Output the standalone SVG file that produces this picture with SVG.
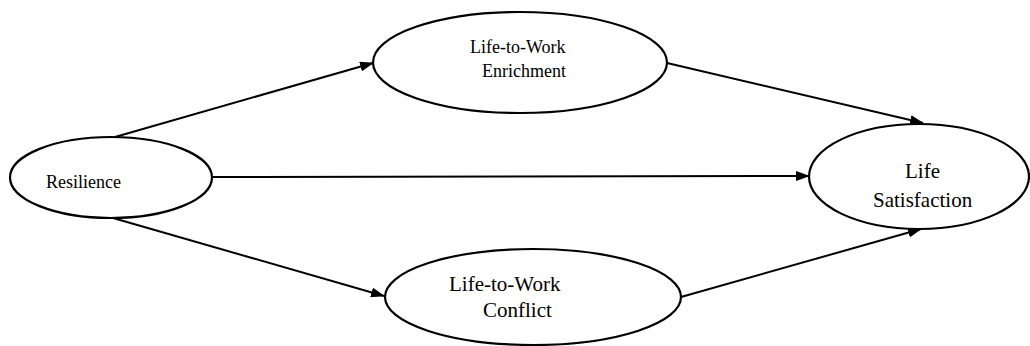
<svg xmlns="http://www.w3.org/2000/svg" width="1030" height="346" viewBox="0 0 1030 346">
<style>
.node ellipse{fill:#fff;stroke:#000;stroke-width:2.2}
.node text{font-family:"Liberation Serif","Times New Roman",serif;fill:#000;text-anchor:start}
.edges line{stroke:#000;stroke-width:2;fill:none}
</style>
<defs>
<marker id="ah" markerUnits="userSpaceOnUse" markerWidth="14" markerHeight="10" refX="13" refY="5" orient="auto">
<path d="M0,0 L14,5 L0,10 z" fill="#000"/>
</marker>
</defs>
<rect width="1030" height="346" fill="#fff"/>
<g class="edges">
<line x1="115" y1="137" x2="373" y2="63" marker-end="url(#ah)"/>
<line x1="212" y1="177" x2="809" y2="176" marker-end="url(#ah)"/>
<line x1="113" y1="218" x2="384" y2="296" marker-end="url(#ah)"/>
<line x1="667" y1="63" x2="923" y2="123" marker-end="url(#ah)"/>
<line x1="681" y1="297" x2="921" y2="229" marker-end="url(#ah)"/>
</g>
<g id="resilience" class="node">
<ellipse cx="111" cy="177.5" rx="101" ry="40.5"/>
<text x="46" y="188" font-size="18">Resilience</text>
</g>
<g id="enrichment" class="node">
<ellipse cx="520" cy="62.5" rx="147" ry="50.5"/>
<text x="470" y="53" font-size="18">Life-to-Work</text>
<text x="482" y="77" font-size="18">Enrichment</text>
</g>
<g id="conflict" class="node">
<ellipse cx="533" cy="297" rx="148" ry="48"/>
<text x="449" y="291" font-size="21">Life-to-Work</text>
<text x="483" y="317" font-size="21">Conflict</text>
</g>
<g id="satisfaction" class="node">
<ellipse cx="919" cy="176.5" rx="110" ry="52.5"/>
<text x="905" y="178" font-size="21">Life</text>
<text x="873" y="207" font-size="21">Satisfaction</text>
</g>
</svg>
